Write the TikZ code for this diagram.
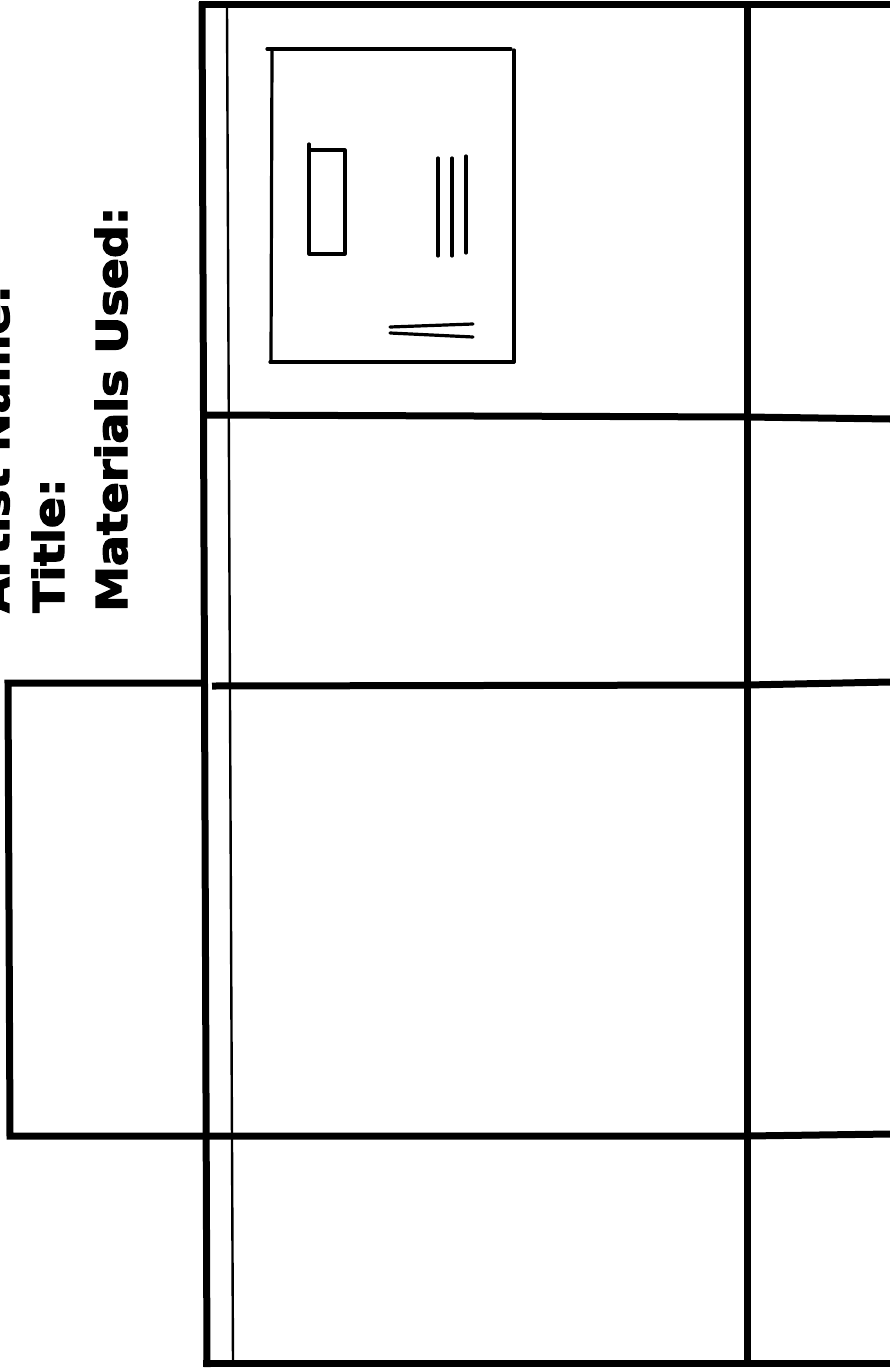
\documentclass[tikz,border=0pt]{standalone}
\usepackage{fontspec}
\newfontfamily\heavyfont[FakeStretch=1.08,FakeBold=3]{DejaVu Sans}
\begin{document}
\begin{tikzpicture}[x=1pt,y=-1pt,
  thickline/.style={line width=7pt,line join=miter},
  thinline/.style={line width=2.4pt},
  sketch/.style={line width=3.2pt,line cap=round,line join=round},
  label/.style={rotate=90,anchor=base west,inner sep=0pt,font=\heavyfont\bfseries\fontsize{42.5}{50}\selectfont}]
\useasboundingbox (0,0) rectangle (890,1370);
\fill[white] (0,0) rectangle (890,1370);
% labels
\node[label] (artist) at (9,613) {Artist Name:};
\node[label] (title) at (64,613) {Title:};
\node[label] (materials) at (127,612) {Materials Used:};
% frame
\draw[thickline] (202,2) -- (207,1367);
\draw[thickline] (199,5) -- (890,5);
\draw[thickline] (747,5) -- (747,1364);
\draw[thickline] (203,415) -- (747,417) -- (890,419);
\draw[thickline] (212,686) -- (747,685) -- (890,682);
\draw[thickline] (205,683) -- (8,683) -- (10,1136) -- (747,1136) -- (890,1134);
\draw[thickline] (203,1363) -- (890,1363);
\draw[thinline] (227,8) -- (230,700) -- (233,1363);
% inner sketch
\draw[sketch] (267,49) -- (511,49);
\draw[sketch] (272,50) -- (271,362);
\draw[sketch] (514,50) -- (514,362);
\draw[sketch] (270,362) -- (514,362);
\draw[sketch] (309,144) -- (309,254) -- (345,254) -- (345,150) -- (309,150);
\draw[sketch] (438,158) -- (438,256);
\draw[sketch] (452,158) -- (452,256);
\draw[sketch] (466,156) -- (466,253);
\draw[sketch] (390,327) -- (473,324);
\draw[sketch] (390,333) -- (473,337);
\end{tikzpicture}
\end{document}
